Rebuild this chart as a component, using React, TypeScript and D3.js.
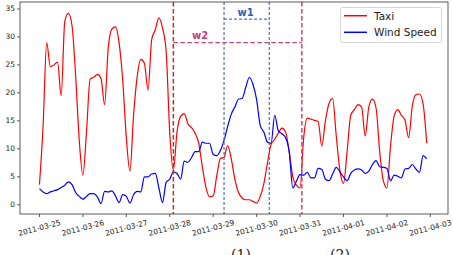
import { useEffect, useRef } from 'react';
import * as d3 from 'd3';

// values every 2 hours starting 2011-03-25 00:00
const taxi = [
  3.6, 14, 29.0, 24.7, 25.0, 25.5, 19.5, 32.8, 34.2, 32.0, 23, 11.5,
  5.3, 13, 22.5, 22.8, 23.3, 22.6, 17.9, 28, 31.4, 31.8, 29, 22.3,
  12, 6.0, 16, 22.9, 26, 25.3, 20.5, 29.5, 31.3, 33.4, 31.6, 27.5,
  12.8, 6.2, 13, 15.8, 16.3, 14.5, 13.8, 12.8, 11, 6.8, 3.1, 1.4,
  1.6, 5.2, 8.3, 8.5, 10.6, 8.2, 4.5, 2.2, 1.2, 0.9, 0.9, 0.6,
  0.3, 1.5, 3.8, 7.5, 10.8, 11.7, 12.8, 13.7, 13.0, 9.5, 5.0, 3.5,
  3.0, 12, 15.5, 15.3, 15.1, 14.9, 10.5, 15, 18.1, 19.0, 12.3, 6.2,
  3.8, 9.5, 16, 17, 17.9, 17.5, 12.3, 17.5, 18.9, 17.3, 9.5, 4.3,
  3.0, 10.5, 15.9, 17, 16, 15.1, 12, 17.6, 19.7, 19.8, 18, 11,
];

const windSpeed = [
  2.9, 2.3, 2.0, 2.3, 2.5, 2.7, 3.1, 3.5, 4.1, 3.6, 2.2, 1.5,
  1.0, 1.5, 2.0, 2.0, 1.4, 0.2, 2.4, 2.3, 2.5, 1.6, 0.4, 1.8,
  1.5, 0.3, 1.8, 2.4, 2.3, 5.0, 5.0, 5.5, 5.6, 3.0, 0.4, 4.0,
  4.6, 5.9, 5.6, 4.6, 7.8, 7.6, 8.4, 9.5, 9.5, 11.2, 11.0, 11.0,
  9.0, 8.8, 9.7, 11.5, 14, 16.2, 17.5, 18.9, 19, 21, 22.8, 21.5,
  18.8, 14.2, 13.0, 11.2, 11.0, 16.0, 13.2, 12.7, 12.0, 9.5, 3.0, 4.2,
  5.4, 5.3, 5.8, 4.8, 4.8, 6.5, 6.3, 4.6, 4.3, 5.5, 6.7, 5.9,
  5.0, 4.3, 5.6, 6.2, 6.4, 6.2, 5.6, 6.0, 7.2, 7.9, 6.8, 6.7,
  6.5, 4.3, 5.3, 5.1, 4.8, 6.4, 6.5, 7.2, 6.4, 5.8, 8.8, 8.2,
];

const startTime = Date.UTC(2011, 2, 25, 0);
const stepHours = 2;
const dayTicks = [
  '2011-03-25', '2011-03-26', '2011-03-27', '2011-03-28', '2011-03-29',
  '2011-03-30', '2011-03-31', '2011-04-01', '2011-04-02', '2011-04-03',
];
const yTicks = [0, 5, 10, 15, 20, 25, 30, 35];

// windows: start, end, level of the bracket line
const w1 = { start: '2011-03-29T06:00Z', end: '2011-03-30T07:00Z', level: 33.2 };
const w2 = { start: '2011-03-28T02:00Z', end: '2011-03-31T01:00Z', level: 29 };

const HOUR = 3600 * 1000;

const App = () => {
  const ref = useRef<SVGSVGElement | null>(null);

  useEffect(() => {
    if (!ref.current) return;
    const svg = d3.select(ref.current);
    svg.selectAll('*').remove();

    const left = 20, right = 448, top = 2, bottom = 214;
    const font = "'DejaVu Sans', sans-serif";

    const x = d3.scaleUtc()
      .domain([new Date(startTime - 10.75 * HOUR), new Date(startTime + 225.75 * HOUR)])
      .range([left, right]);
    const y = d3.scaleLinear().domain([-1.65, 36.25]).range([bottom, top]);

    const t = (i: number) => new Date(startTime + i * stepHours * HOUR);

    // data lines
    const line = d3.line<number>().x((_, i) => x(t(i))).y(d => y(d)).curve(d3.curveMonotoneX);
    svg.append('path').datum(taxi)
      .attr('d', line).attr('fill', 'none')
      .attr('stroke', 'red').attr('stroke-width', 1.2).attr('stroke-linejoin', 'round');
    svg.append('path').datum(windSpeed)
      .attr('d', line).attr('fill', 'none')
      .attr('stroke', 'blue').attr('stroke-width', 1.2).attr('stroke-linejoin', 'round');

    // window markers
    const pink = '#c8457a', darkRed = '#b3302a', steel = '#4f74b0';
    const vline = (d: string, color: string, dash: string, w: number) =>
      svg.append('line')
        .attr('x1', x(new Date(d))).attr('x2', x(new Date(d)))
        .attr('y1', top).attr('y2', bottom)
        .attr('stroke', color).attr('stroke-width', w).attr('stroke-dasharray', dash);
    const hline = (a: string, b: string, v: number, color: string, dash: string, w: number) =>
      svg.append('line')
        .attr('x1', x(new Date(a))).attr('x2', x(new Date(b)))
        .attr('y1', y(v)).attr('y2', y(v))
        .attr('stroke', color).attr('stroke-width', w).attr('stroke-dasharray', dash);

    vline(w2.start, darkRed, '4.5,2.5', 1.5);
    vline(w2.end, pink, '4.5,2.5', 1.5);
    hline(w2.start, w2.end, w2.level, pink, '4.5,2.5', 1.3);
    vline(w1.start, steel, '3,2', 1.2);
    vline(w1.end, steel, '3,2', 1.2);
    hline(w1.start, w1.end, w1.level, steel, '3,2', 1.2);

    svg.append('text')
      .attr('x', 200).attr('y', y(w2.level) - 3.5)
      .attr('text-anchor', 'middle')
      .attr('font-family', font).attr('font-weight', 'bold').attr('font-size', 10)
      .attr('fill', '#c2407a').text('w2');
    svg.append('text')
      .attr('x', (x(new Date(w1.start)) + x(new Date(w1.end))) / 2 - 1)
      .attr('y', y(w1.level) - 3)
      .attr('text-anchor', 'middle')
      .attr('font-family', font).attr('font-weight', 'bold').attr('font-size', 10)
      .attr('fill', '#2c5fae').text('w1');

    // frame
    svg.append('rect')
      .attr('x', left).attr('y', top)
      .attr('width', right - left).attr('height', bottom - top)
      .attr('fill', 'none').attr('stroke', '#333').attr('stroke-width', 0.8);

    // y axis
    const yg = svg.append('g');
    yTicks.forEach(v => {
      yg.append('line').attr('x1', left - 3).attr('x2', left)
        .attr('y1', y(v)).attr('y2', y(v)).attr('stroke', '#333').attr('stroke-width', 0.8);
      yg.append('text').attr('x', left - 5).attr('y', y(v))
        .attr('text-anchor', 'end').attr('dominant-baseline', 'central')
        .attr('font-family', font).attr('font-size', 7.5).attr('fill', '#222')
        .text(v);
    });

    // x axis
    const xg = svg.append('g');
    dayTicks.forEach(d => {
      const px = x(new Date(d + 'T00:00Z'));
      xg.append('line').attr('x1', px).attr('x2', px)
        .attr('y1', bottom).attr('y2', bottom + 3).attr('stroke', '#333').attr('stroke-width', 0.8);
      xg.append('text')
        .attr('transform', `translate(${px},${bottom + 14}) rotate(-15)`)
        .attr('text-anchor', 'middle').attr('dominant-baseline', 'central')
        .attr('font-family', font).attr('font-size', 7.5).attr('fill', '#222')
        .text(d);
    });

    // legend
    const lg = svg.append('g');
    lg.append('rect')
      .attr('x', 340.5).attr('y', 7.5).attr('width', 101).attr('height', 35).attr('rx', 2)
      .attr('fill', 'white').attr('fill-opacity', 0.8)
      .attr('stroke', '#cccccc').attr('stroke-width', 0.8);
    [['Taxi', 'red', 15.7], ['Wind Speed', 'blue', 32.3]].forEach(([label, color, ly]) => {
      lg.append('line').attr('x1', 344).attr('x2', 367)
        .attr('y1', ly as number).attr('y2', ly as number)
        .attr('stroke', color as string).attr('stroke-width', 1.5);
      lg.append('text').attr('x', 374).attr('y', ly as number)
        .attr('dominant-baseline', 'central')
        .attr('font-family', font).attr('font-size', 10.5).attr('fill', '#222')
        .text(label as string);
    });

    // subfigure captions (only their top shows, as in the source figure)
    [['(1)', 241], ['(2)', 340]].forEach(([s, cx]) => {
      svg.append('text').attr('x', cx as number).attr('y', 260)
        .attr('text-anchor', 'middle')
        .attr('font-family', "'DejaVu Serif', serif").attr('font-size', 14).attr('fill', '#222')
        .text(s as string);
    });
  }, []);

  return (
    <svg ref={ref} width={453} height={255}
      style={{ position: 'absolute', left: 0, top: 0, background: 'white' }} />
  );
};

export default App;
